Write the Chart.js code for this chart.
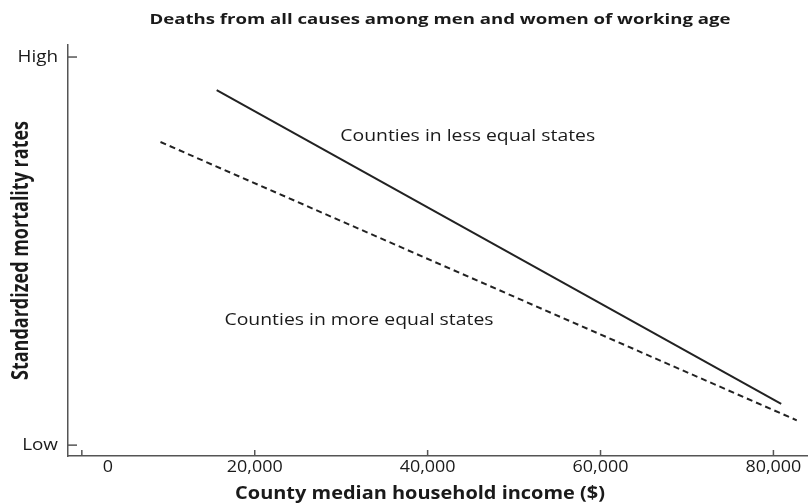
<!DOCTYPE html>
<html><head><meta charset="utf-8">
<script src="https://cdn.jsdelivr.net/npm/chart.js@4/dist/chart.umd.min.js"></script>
<style>html,body{margin:0;padding:0;background:#fff}#wrap{width:808px;height:503px}</style>
</head><body><div id="wrap"><canvas id="c" width="808" height="503"></canvas></div>
<script>
const titleText = "Deaths from all causes among men and women of working age";
const xTitle = "County median household income ($)";
const yTitle = "Standardized mortality rates";
const xTickValues = [0, 20000, 40000, 60000, 80000];
const xTickLabels = ["0", "20,000", "40,000", "60,000", "80,000"];
const yTickValues = [0, 1];
const yTickLabels = ["Low", "High"];
const lessEqualX = [15600, 80900];
const lessEqualY = [0.915, 0.106];
const moreEqualX = [9100, 82700];
const moreEqualY = [0.781, 0.064];
const seriesNames = ["Counties in less equal states", "Counties in more equal states"];
const labelAnchorX = [29900, 16500];
const labelAnchorY = [0.796, 0.32];

const FONT = "'Open Sans', sans-serif";
const INK = '#1a1a1a';
const LINE = '#222';

const pts = (xs, ys) => xs.map((x, i) => ({x, y: ys[i]}));

function txt(ctx, s, x, y, o) {
  ctx.save();
  ctx.translate(x, y);
  if (o.rot) ctx.rotate(o.rot);
  ctx.scale(o.sx || 1, o.sy || 1);
  ctx.font = (o.weight || 'normal') + ' ' + o.size + 'px ' + FONT;
  ctx.fillStyle = INK;
  ctx.textAlign = o.align || 'left';
  ctx.textBaseline = o.base || 'alphabetic';
  ctx.fillText(s, 0, 0);
  ctx.restore();
}

const decor = {
  id: 'decor',
  afterDraw(chart) {
    const ctx = chart.ctx, xs = chart.scales.x, ys = chart.scales.y, ca = chart.chartArea;
    ctx.save();
    ctx.strokeStyle = '#555'; ctx.lineWidth = 1.5;
    const ay = xs.top, ax = ys.right;
    xTickValues.forEach(v => {
      const px = xs.getPixelForValue(v);
      ctx.beginPath(); ctx.moveTo(px, ay); ctx.lineTo(px, ay - 6); ctx.stroke();
    });
    yTickValues.forEach(v => {
      const py = ys.getPixelForValue(v);
      ctx.beginPath(); ctx.moveTo(ax, py); ctx.lineTo(ax + 9, py); ctx.stroke();
    });
    ctx.restore();
    // title
    txt(ctx, titleText, (ca.left + ca.right) / 2 + 2, 20, {size: 15, weight: 'bold', sx: 1.24, align: 'center', base: 'middle'});
    // x tick labels
    xTickValues.forEach((v, i) => {
      let px = xs.getPixelForValue(v);
      if (v === 0) px += 26;
      txt(ctx, xTickLabels[i], px, ay + 11, {size: 16, sx: 1.12, align: 'center', base: 'middle'});
    });
    // y tick labels
    yTickValues.forEach((v, i) => {
      txt(ctx, yTickLabels[i], ax - 10, ys.getPixelForValue(v), {size: 16, sx: 1.18, align: 'right', base: 'middle'});
    });
    // axis titles
    txt(ctx, xTitle, (ca.left + ca.right) / 2 - 18, 499, {size: 17.5, weight: 'bold', sx: 1.14, align: 'center', base: 'alphabetic'});
    txt(ctx, yTitle, 28, (ca.top + ca.bottom) / 2, {size: 18, weight: 'bold', rot: -Math.PI / 2, sy: 1.25, align: 'center', base: 'alphabetic'});
    // series labels
    seriesNames.forEach((n, i) => {
      txt(ctx, n, xs.getPixelForValue(labelAnchorX[i]), ys.getPixelForValue(labelAnchorY[i]), {size: 15.5, sx: 1.25, align: 'left', base: 'middle'});
    });
  }
};

new Chart(document.getElementById('c'), {
  type: 'line',
  data: {
    datasets: [
      {label: seriesNames[0], data: pts(lessEqualX, lessEqualY), borderColor: LINE, borderWidth: 2, pointRadius: 0, fill: false},
      {label: seriesNames[1], data: pts(moreEqualX, moreEqualY), borderColor: LINE, borderWidth: 2, borderDash: [6, 4], pointRadius: 0, fill: false}
    ]
  },
  options: {
    responsive: false,
    animation: false,
    layout: {padding: {left: 0, right: 0, top: 45, bottom: 0}},
    plugins: {
      legend: {display: false},
      tooltip: {enabled: false},
      title: {display: false}
    },
    scales: {
      x: {
        type: 'linear', min: -1600, max: 84000,
        afterBuildTicks: s => { s.ticks = xTickValues.map(v => ({value: v})); },
        afterFit: s => { s.height = 47; },
        grid: {display: false},
        border: {display: true, color: '#555', width: 1.5},
        ticks: {display: false}
      },
      y: {
        type: 'linear', min: -0.028, max: 1.031,
        afterBuildTicks: s => { s.ticks = yTickValues.map(v => ({value: v})); },
        afterFit: s => { s.width = 68; },
        grid: {display: false},
        border: {display: true, color: '#555', width: 1.5},
        ticks: {display: false}
      }
    }
  },
  plugins: [decor]
});
</script></body></html>
